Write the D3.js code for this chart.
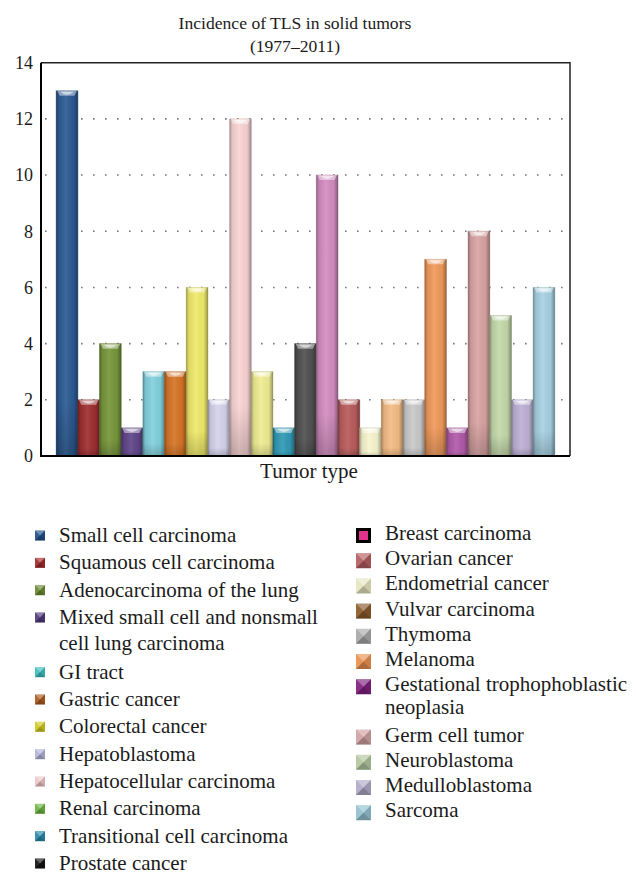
<!DOCTYPE html>
<html>
<head>
<meta charset="utf-8">
<script src="https://cdn.jsdelivr.net/npm/d3@7"></script>
<style>
  body { margin: 0; background: #fff; }
  svg { display: block; }
  svg text { font-family: 'Liberation Serif', 'DejaVu Serif', serif; fill: #1b1b1b; }
</style>
</head>
<body>
<svg id="chart" width="636" height="875"></svg>
<script>
// Tumor types, in the order they are plotted and listed
const categories = [
  "Small cell carcinoma",
  "Squamous cell carcinoma",
  "Adenocarcinoma of the lung",
  "Mixed small cell and nonsmall\ncell lung carcinoma",
  "GI tract",
  "Gastric cancer",
  "Colorectal cancer",
  "Hepatoblastoma",
  "Hepatocellular carcinoma",
  "Renal carcinoma",
  "Transitional cell carcinoma",
  "Prostate cancer",
  "Breast carcinoma",
  "Ovarian cancer",
  "Endometrial cancer",
  "Vulvar carcinoma",
  "Thymoma",
  "Melanoma",
  "Gestational trophophoblastic\nneoplasia",
  "Germ cell tumor",
  "Neuroblastoma",
  "Medulloblastoma",
  "Sarcoma"
];

// Number of reported TLS cases per tumor type
const cases = [13, 2, 4, 1, 3, 3, 6, 2, 12, 3, 1, 4, 10, 2, 1, 2, 2, 7, 1, 8, 5, 2, 6];

const yTicks = [0, 2, 4, 6, 8, 10, 12, 14];
const gridTicks = [2, 4, 6, 8, 10, 12];

const barColors = [
  "#2c5b94", "#9e2f31", "#77973b", "#5f4688", "#82d1dd", "#d67527",
  "#f0ea6b", "#d5d3eb", "#f9d4d4", "#efed93", "#3099b4", "#515151",
  "#d38dc0", "#b95c5c", "#f7f5cd", "#f3bc84", "#c9c9c9", "#f09a5b",
  "#b15aa9", "#d9a3a3", "#c4d9a9", "#beb1d5", "#a7d1e3"
];

const swatchColors = [
  "#234f88", "#a22a2c", "#6b8a32", "#4f3a7b", "#3cbdbd", "#ad5a1f",
  "#cfc81e", "#b3b3d9", "#efc6c8", "#6db343", "#2a87a6", "#141414",
  "#e2338c", "#b35e60", "#e6e5c0", "#8b5a2b", "#a9a9a9", "#e8914f",
  "#7f1f7f", "#d0a2a2", "#b2c7a0", "#b2aac8", "#93c0d0"
];
const swatchEdges = [
  null, null, null, null, null, null, null, null, null, null, null, null,
  "#000000", null, null, null, null, null, null, null, null, null, null
];

const titleLines = ["Incidence of TLS in solid tumors", "(1977\u20132011)"];
const xTitle = "Tumor type";

const FONT = "'Liberation Serif', 'DejaVu Serif', serif";
const svg = d3.select("#chart");
const plot = { left: 41, right: 570, top: 62.7, bottom: 456 };

const x = d3.scaleBand()
  .domain(categories)
  .range([plot.left, plot.right])
  .paddingInner(0)
  .paddingOuter(0.7);

const y = d3.scaleLinear()
  .domain([0, 14])
  .range([plot.bottom, plot.top]);

const defs = svg.append("defs");
const shade = defs.append("linearGradient").attr("id", "barShade")
  .attr("x1", 0).attr("x2", 1).attr("y1", 0).attr("y2", 0);
[[0, "#000", 0.32], [0.12, "#000", 0.08], [0.45, "#fff", 0.08],
 [0.8, "#000", 0.04], [1, "#000", 0.35]].forEach(([o, c, a]) =>
  shade.append("stop").attr("offset", o).attr("stop-color", c).attr("stop-opacity", a));
const foot = defs.append("linearGradient").attr("id", "barFoot")
  .attr("x1", 0).attr("x2", 0).attr("y1", 0).attr("y2", 1);
[[0, "#000", 0], [0.85, "#000", 0], [1, "#000", 0.18]].forEach(([o, c, a]) =>
  foot.append("stop").attr("offset", o).attr("stop-color", c).attr("stop-opacity", a));

// Title
svg.append("g").selectAll("text").data(titleLines).join("text")
  .attr("x", 295).attr("y", (d, i) => 29 + i * 23)
  .attr("text-anchor", "middle")
  .attr("font-family", FONT)
  .attr("font-size", 17.6)
  .text(d => d);

// Dotted gridlines
svg.append("g").selectAll("line").data(gridTicks).join("line")
  .attr("x1", plot.left + 4).attr("x2", plot.right)
  .attr("y1", d => y(d)).attr("y2", d => y(d))
  .attr("stroke", "#777").attr("stroke-width", 1.6)
  .attr("stroke-dasharray", "1.6,10.4");

// Frame top and right
svg.append("path")
  .attr("d", `M${plot.left},${plot.top}H${plot.right}V${plot.bottom}`)
  .attr("fill", "none").attr("stroke", "#222").attr("stroke-width", 1.5);

// Bars
const bars = svg.append("g").selectAll("g").data(categories).join("g");
const bw = x.bandwidth();
bars.append("rect")
  .attr("x", d => x(d)).attr("width", bw)
  .attr("y", (d, i) => y(cases[i])).attr("height", (d, i) => y(0) - y(cases[i]))
  .attr("fill", (d, i) => barColors[i])
  .attr("stroke", (d, i) => d3.color(barColors[i]).darker(0.8))
  .attr("stroke-opacity", 0.45).attr("stroke-width", 1);
bars.append("rect")
  .attr("x", d => x(d)).attr("width", bw)
  .attr("y", (d, i) => y(cases[i])).attr("height", (d, i) => y(0) - y(cases[i]))
  .attr("fill", "url(#barShade)");
bars.append("rect")
  .attr("x", d => x(d)).attr("width", bw)
  .attr("y", (d, i) => y(cases[i])).attr("height", (d, i) => y(0) - y(cases[i]))
  .attr("fill", "url(#barFoot)");
// Bevelled top
bars.append("path")
  .attr("d", (d, i) => {
    const x0 = x(d), x1 = x(d) + bw, t = y(cases[i]);
    return `M${x0 + 1},${t}H${x1 - 1}L${x1 - 3.5},${t + 5}H${x0 + 3.5}Z`;
  })
  .attr("fill", "#fff").attr("fill-opacity", 0.45);
bars.append("path")
  .attr("d", (d, i) => {
    const x0 = x(d), x1 = x(d) + bw, t = y(cases[i]);
    const m = (x0 + x1) / 2;
    return `M${x0 + 4},${t + 1}H${x1 - 4}Q${m},${t + 7} ${x0 + 4},${t + 1}Z`;
  })
  .attr("fill", "#fff").attr("fill-opacity", 0.55);

// Left and bottom axis lines
svg.append("path")
  .attr("d", `M${plot.left},${plot.top}V${plot.bottom}H${plot.right}`)
  .attr("fill", "none").attr("stroke", "#000").attr("stroke-width", 2);

// Y tick labels
const yAxis = d3.axisLeft(y).tickValues(yTicks).tickSize(0).tickPadding(8).tickFormat(d3.format("d"));
const ya = svg.append("g").attr("transform", `translate(${plot.left},0)`).call(yAxis)
  .attr("font-family", FONT).attr("font-size", 18);
ya.select(".domain").remove();
ya.selectAll("text").attr("fill", "#1b1b1b");

// X axis title
svg.append("text")
  .attr("x", 309).attr("y", 478)
  .attr("text-anchor", "middle")
  .attr("font-family", FONT)
  .attr("font-size", 21)
  .text(xTitle);

// Legend in two columns (positions given by text baselines)
const columns = [
  { from: 0, to: 12, sx: 35, size: 10, tx: 59, base: 542, step: 27.33, lead: 26, dy: -6.5 },
  { from: 12, to: 23, sx: 356, size: 15, tx: 385, base: 540, step: 25.2, lead: 23, dy: -4.5 }
];
columns.forEach(col => {
  let row = 0;
  for (let i = col.from; i < col.to; i++) {
    const lines = categories[i].split("\n");
    const by = col.base + row * col.step;
    const g = svg.append("g");
    const s = col.size, sx = col.sx, sy = by + col.dy - s / 2;
    const edge = swatchEdges[i];
    if (edge) {
      g.append("rect").attr("x", sx).attr("y", sy).attr("width", s).attr("height", s).attr("fill", edge);
      g.append("rect").attr("x", sx + 3).attr("y", sy + 3).attr("width", s - 6).attr("height", s - 6)
        .attr("fill", swatchColors[i]);
    } else {
      g.append("rect").attr("x", sx).attr("y", sy).attr("width", s).attr("height", s)
        .attr("fill", swatchColors[i]);
      const c = [sx + s / 2, sy + s / 2];
      const tri = [
        [[sx, sy], [sx + s, sy], c, "#fff", 0.35],
        [[sx, sy + s], [sx + s, sy + s], c, "#000", 0.25],
        [[sx, sy], [sx, sy + s], c, "#fff", 0.08],
        [[sx + s, sy], [sx + s, sy + s], c, "#000", 0.12]
      ];
      tri.forEach(([a, b, m, f, o]) => g.append("path")
        .attr("d", `M${a}L${b}L${m}Z`).attr("fill", f).attr("fill-opacity", o));
    }
    lines.forEach((ln, k) => {
      g.append("text")
        .attr("x", col.tx).attr("y", by + k * col.lead)
        .attr("font-family", FONT)
        .attr("font-size", 21)
        .text(ln);
    });
    row += lines.length;
  }
});
</script>
</body>
</html>
